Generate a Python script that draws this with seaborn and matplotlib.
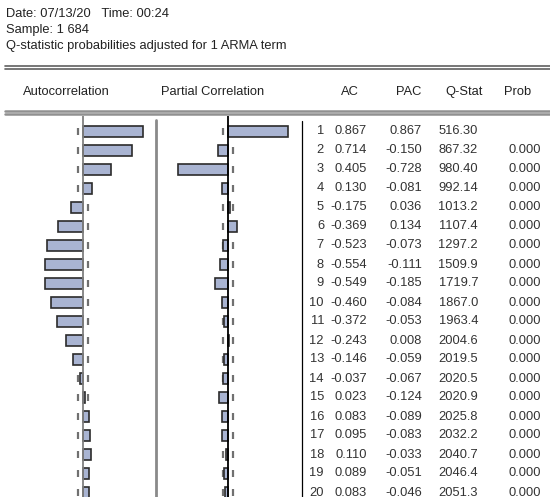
import numpy as np
import pandas as pd
import matplotlib
matplotlib.use("Agg")
import matplotlib.pyplot as plt
import matplotlib.transforms as mtransforms
import seaborn as sns

# correlogram values
lags = list(range(1, 21))
ac = [0.867, 0.714, 0.405, 0.130, -0.175, -0.369, -0.523, -0.554, -0.549, -0.460,
      -0.372, -0.243, -0.146, -0.037, 0.023, 0.083, 0.095, 0.110, 0.089, 0.083]
pac = [0.867, -0.150, -0.728, -0.081, 0.036, 0.134, -0.073, -0.111, -0.185, -0.084,
       -0.053, 0.008, -0.059, -0.067, -0.124, -0.089, -0.083, -0.033, -0.051, -0.046]
qstat = ["516.30", "867.32", "980.40", "992.14", "1013.2", "1107.4", "1297.2", "1509.9",
         "1719.7", "1867.0", "1963.4", "2004.6", "2019.5", "2020.5", "2020.9", "2025.8",
         "2032.2", "2040.7", "2046.4", "2051.3"]
prob = [""] + ["0.000"] * 19
header_lines = ["Date: 07/13/20   Time: 00:24",
                "Sample: 1 684",
                "Q-statistic probabilities adjusted for 1 ARMA term"]
columns = ["Autocorrelation", "Partial Correlation", "AC", "PAC", "Q-Stat", "Prob"]
n_obs = 684

df = pd.DataFrame({"lag": [str(l) for l in lags], "ac": ac, "pac": pac})
bound = 2 / np.sqrt(n_obs)

sns.set_style("white")
plt.rcParams["font.family"] = ["Liberation Sans", "DejaVu Sans"]
plt.rcParams["font.size"] = 9.3

W, H = 550, 497
fig = plt.figure(figsize=(W / 100, H / 100), dpi=100)

# overlay in pixel coordinates for the table frame
over = fig.add_axes([0, 0, 1, 1])
over.set_xlim(0, W)
over.set_ylim(H, 0)
over.axis("off")


def px_axes(x0, x1, y0, y1):
    return fig.add_axes([x0 / W, 1 - y1 / H, (x1 - x0) / W, (y1 - y0) / H])


bar_col = "#a9b4d2"
edge_col = "#2b2b2b"
top, row_h, first_row = 116, 19, 131.5
ylim = ((H - first_row) / row_h, -(first_row - top) / row_h)
rows = np.arange(len(lags))

panels = []
for col, x0, zero_col in [("ac", 10, "#808080"), ("pac", 155, "black")]:
    ax = px_axes(x0, x0 + 146, top, H)
    sns.barplot(data=df, x=col, y="lag", orient="h", color=bar_col, edgecolor=edge_col,
                linewidth=1.2, width=0.58, saturation=1, ax=ax, zorder=3)
    ax.set_xlim(-1.058, 1.058)
    ax.set_ylim(*ylim)
    ax.axvline(0, color=zero_col, lw=1.3, zorder=4)
    for b in (-bound, bound):
        ax.vlines(np.full(len(rows), b), rows - 0.2, rows + 0.2,
                  color="#707070", lw=1.6, zorder=2)
    ax.axis("off")
    panels.append(ax)

# frame lines
over.plot([5, W], [66, 66], color="#606060", lw=1.2)
over.plot([5, W], [69, 69], color="#606060", lw=1.2)
over.plot([5, W], [110.5, 110.5], color="#909090", lw=1.8)
over.plot([5, W], [114, 114], color="#909090", lw=1.8)
over.plot([156, 156], [120, H], color="#8a8a8a", lw=2)
over.plot([302, 302], [121, H], color="black", lw=0.9)

for i, line in enumerate(header_lines):
    over.text(6, 14 + 16 * i, line, va="center", ha="left", color="#222222")

for label, xc in zip(columns, [66, 213, 350, 409, 464, 518]):
    over.text(xc, 92, label, ha="center", va="center", color="#222222")

# table body: x in pixels, y in the bar axes' category units
tr = mtransforms.blended_transform_factory(over.transData, panels[0].transData)
for k in range(len(lags)):
    row = [str(lags[k]), f"{ac[k]:.3f}", f"{pac[k]:.3f}", qstat[k], prob[k]]
    for txt, xr in zip(row, [324, 367, 422, 478, 541]):
        over.text(xr, k, txt, transform=tr, ha="right", va="center", color="#333333")

fig.savefig("out.png", dpi=100)
